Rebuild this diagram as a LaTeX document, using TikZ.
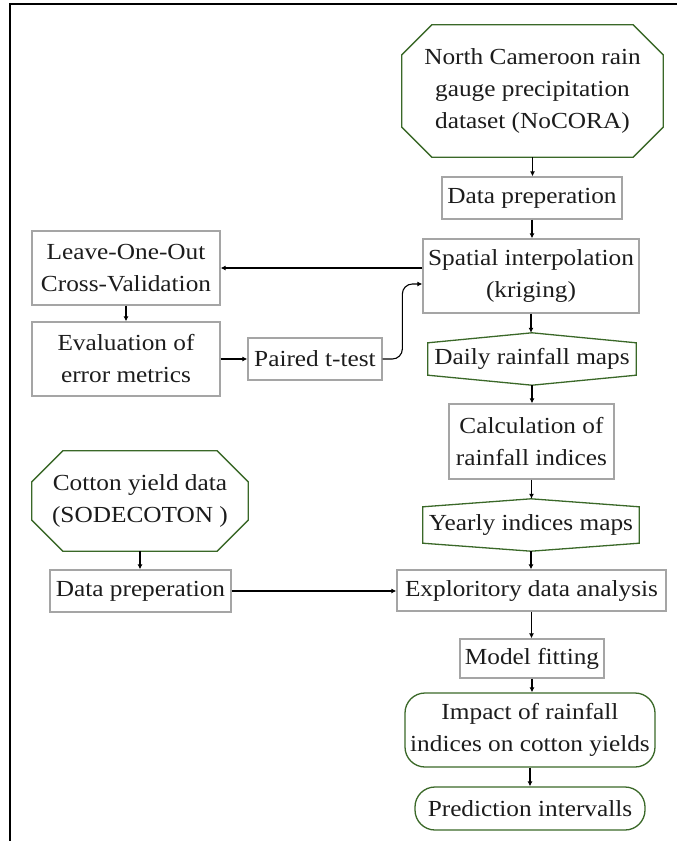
\documentclass[tikz,border=0pt]{standalone}
\usepackage{fontspec}
\setmainfont[FakeStretch=1.1]{Liberation Serif}
\usetikzlibrary{arrows.meta,calc}
\definecolor{boxgray}{RGB}{165,165,165}
\definecolor{dgreen}{RGB}{58,104,40}
\definecolor{txt}{RGB}{28,28,28}
\newcommand\drawocto[2]{\draw[gline] ([xshift=#2]#1.north west) -- ([xshift=-#2]#1.north east) -- ([yshift=-#2]#1.north east) -- ([yshift=#2]#1.south east) -- ([xshift=-#2]#1.south east) -- ([xshift=#2]#1.south west) -- ([yshift=#2]#1.south west) -- ([yshift=-#2]#1.north west) -- cycle;}
\newcommand\drawhexa[2]{\draw[gline] (#1.north) -- ([yshift=-#2]#1.north east) -- ([yshift=#2]#1.south east) -- (#1.south) -- ([yshift=#2]#1.south west) -- ([yshift=-#2]#1.north west) -- cycle;}
\begin{document}
\begin{tikzpicture}[x=1pt,y=-1pt,
  every node/.style={font=\fontsize{23}{32}\selectfont, text=txt, align=center, inner sep=0pt},
  gbox/.style={draw=boxgray, line width=1.3pt},
  gline/.style={draw=dgreen, line width=1.3pt, line join=miter},
  rbox/.style={draw=dgreen, line width=1.3pt, rounded corners=20pt},
  arr/.style={draw=black, line width=1.1pt, -{Latex[length=5pt,width=5pt]}}
]
\useasboundingbox (0,0) rectangle (677,841);
\draw[line width=1.2pt] (677,4) -- (10,4) -- (10,841);

% main column
\node[minimum width=261pt, minimum height=132pt] (nocora) at (532.5,91) {North Cameroon rain\\gauge precipitation\\dataset (NoCORA)};
\node[gbox, minimum width=180pt, minimum height=42pt] (dpa) at (532,198) {Data preperation};
\node[gbox, minimum width=216pt, minimum height=74pt] (spatial) at (531,276) {Spatial interpolation\\(kriging)};
\node[minimum width=208pt, minimum height=52pt] (daily) at (532,359) {Daily rainfall maps};
\node[gbox, minimum width=165pt, minimum height=75pt] (calc) at (531.5,441.5) {Calculation of\\rainfall indices};
\node[minimum width=216pt, minimum height=52pt] (yearly) at (531,525) {Yearly indices maps};
\node[gbox, minimum width=269pt, minimum height=41pt] (explor) at (531.5,590.5) {Exploritory data analysis};
\node[gbox, minimum width=144pt, minimum height=39pt] (model) at (532,658.5) {Model fitting};
\node[rbox, minimum width=250pt, minimum height=74pt] (impact) at (530,730) {Impact of rainfall\\indices on cotton yields};
\node[rbox, minimum width=230pt, minimum height=43pt] (pred) at (530,808.5) {Prediction intervalls};

% left column
\node[gbox, minimum width=188pt, minimum height=74pt] (loocv) at (126,268) {Leave-One-Out\\Cross-Validation};
\node[gbox, minimum width=188pt, minimum height=74pt] (eval) at (126,359) {Evaluation of\\error metrics};
\node[gbox, minimum width=134pt, minimum height=42pt] (paired) at (315,359) {Paired t-test};
\node[minimum width=216pt, minimum height=100pt] (cotton) at (140,501) {Cotton yield data\\(SODECOTON )};
\node[gbox, minimum width=181pt, minimum height=42pt] (dpb) at (140.5,591) {Data preperation};

% custom shapes
\drawocto{nocora}{30pt}
\drawocto{cotton}{31pt}
\drawhexa{daily}{10pt}
\drawhexa{yearly}{8pt}

% connectors
\draw[arr] (nocora.south) -- (nocora.south |- dpa.north);
\draw[arr] (dpa.south) -- (dpa.south |- spatial.north);
\draw[arr] (spatial.west |- loocv.east) -- (loocv.east);
\draw[arr] (spatial.south) -- (spatial.south |- daily.north);
\draw[arr] (daily.south) -- (daily.south |- calc.north);
\draw[arr] (calc.south) -- (calc.south |- yearly.north);
\draw[arr] (yearly.south) -- (yearly.south |- explor.north);
\draw[arr] (explor.south) -- (explor.south |- model.north);
\draw[arr] (model.south) -- (model.south |- impact.north);
\draw[arr] (impact.south) -- (impact.south |- pred.north);
\draw[arr] (loocv.south) -- (eval.north);
\draw[arr] (eval.east) -- (paired.west);
\coordinate (kin) at ([yshift=-8pt]spatial.west);
\draw[arr, rounded corners=10pt] (paired.east) -| ([xshift=-20pt]kin) -- (kin);
\draw[arr] (cotton.south) -- (cotton.south |- dpb.north);
\draw[arr] (dpb.east) -- (dpb.east -| explor.west);
\end{tikzpicture}
\end{document}
